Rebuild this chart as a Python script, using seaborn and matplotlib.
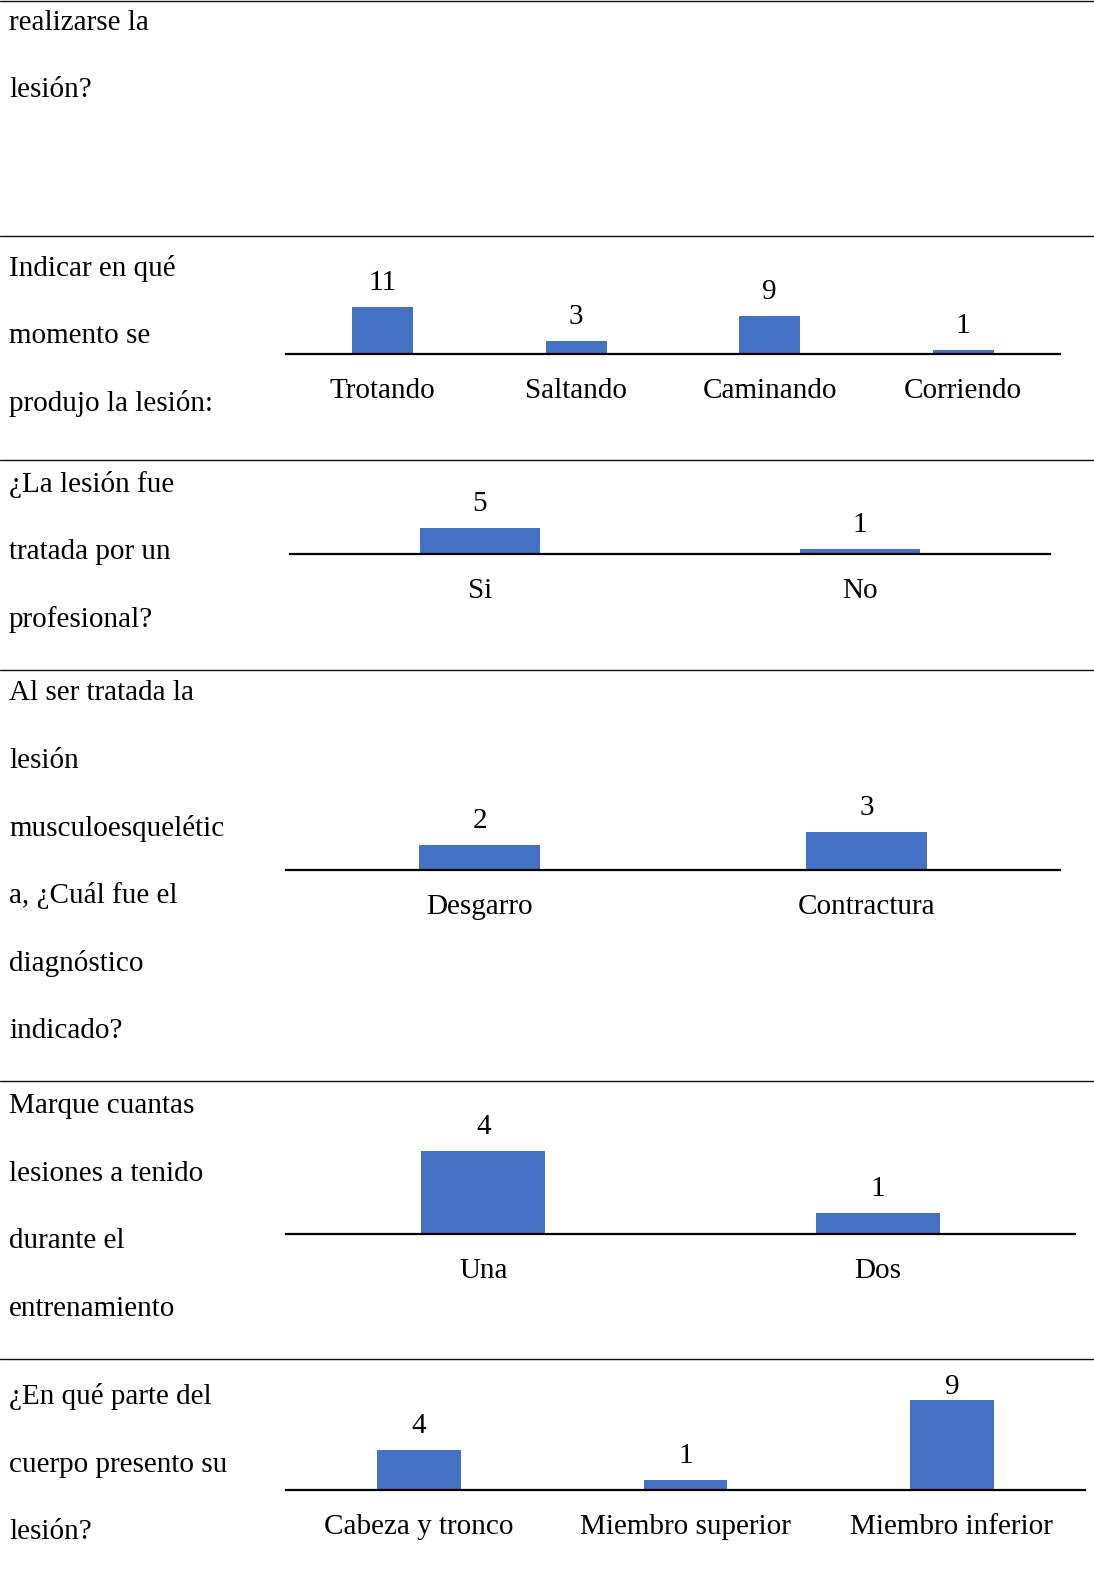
import matplotlib
matplotlib.use("Agg")
import matplotlib.pyplot as plt
import matplotlib.transforms as mtransforms
import seaborn as sns

sns.set_theme(style="white")
plt.rcParams["font.family"] = ["Liberation Serif", "DejaVu Serif"]

# ---- survey answers (counts) ----
momento_cats = ["Trotando", "Saltando", "Caminando", "Corriendo"]
momento_vals = [11, 3, 9, 1]

tratada_cats = ["Si", "No"]
tratada_vals = [5, 1]

diagnostico_cats = ["Desgarro", "Contractura"]
diagnostico_vals = [2, 3]

cuantas_cats = ["Una", "Dos"]
cuantas_vals = [4, 1]

parte_cats = ["Cabeza y tronco", "Miembro superior", "Miembro inferior"]
parte_vals = [4, 1, 9]

# ---- question text, one entry per printed line ----
q_prev = ["realizarse la", "lesión?"]
q_momento = ["Indicar en qué", "momento se", "produjo la lesión:"]
q_tratada = ["¿La lesión fue", "tratada por un", "profesional?"]
q_diagnostico = ["Al ser tratada la", "lesión", "musculoesquelétic",
                 "a, ¿Cuál fue el", "diagnóstico", "indicado?"]
q_cuantas = ["Marque cuantas", "lesiones a tenido", "durante el",
             "entrenamiento"]
q_parte = ["¿En qué parte del", "cuerpo presento su", "lesión?"]

# ---- page layout (pixels from top-left of the page) ----
W, H = 1094, 1595
DPI = 100
BAR_COLOR = "#4472C4"
FS = 21
LINE_STEP = 67.6

rule_rows = [1, 236, 460, 670, 1081, 1359]

# (lines, first line centre y)
text_blocks = [
    (q_prev, 22.5),
    (q_momento, 268.5),
    (q_tratada, 484.5),
    (q_diagnostico, 693),
    (q_cuantas, 1106),
    (q_parte, 1397),
]

# (categories, values, x_left, x_right, baseline_y, axes_height_px, px_per_unit)
panels = [
    (momento_cats, momento_vals, 286, 1060, 354, 90, 4.25),
    (tratada_cats, tratada_vals, 290, 1050, 554, 60, 5.2),
    (diagnostico_cats, diagnostico_vals, 286, 1060, 870, 70, 12.5),
    (cuantas_cats, cuantas_vals, 286, 1075, 1234, 115, 20.75),
    (parte_cats, parte_vals, 286, 1085, 1490, 104, 10.0),
]

fig = plt.figure(figsize=(W / DPI, H / DPI), dpi=DPI)
fig.patch.set_facecolor("white")

# horizontal table rules
for y in rule_rows:
    fig.add_artist(plt.Line2D([0, 1], [1 - y / H, 1 - y / H],
                              transform=fig.transFigure,
                              color="#111111", lw=1.0))

# question column
for lines, y0 in text_blocks:
    for i, line in enumerate(lines):
        y = y0 + i * LINE_STEP
        fig.text(9 / W, 1 - y / H, line, fontsize=FS, ha="left",
                 va="center", color="#000000")

LABEL_GAP = 25  # px between bar top and value label centre

for cats, vals, x0, x1, base, hpx, ppu in panels:
    ax = fig.add_axes([x0 / W, 1 - base / H, (x1 - x0) / W, hpx / H])
    ax.patch.set_alpha(0)
    sns.barplot(x=cats, y=vals, color=BAR_COLOR, saturation=1,
                width=0.315, ax=ax, edgecolor="none")
    n = len(cats)
    ymax = hpx / ppu
    ax.set_xlim(-0.5, n - 0.5)
    ax.set_ylim(0, ymax)
    for side in ("top", "left", "right"):
        ax.spines[side].set_visible(False)
    ax.spines["bottom"].set_color("#000000")
    ax.spines["bottom"].set_linewidth(1.6)
    ax.set_yticks([])
    ax.set_ylabel("")
    ax.set_xlabel("")
    ax.set_xticks(range(n))
    ax.set_xticklabels(cats, fontsize=FS, color="#000000")
    ax.tick_params(axis="x", length=0, pad=17.5)
    ax.grid(False)

    # value labels above bars, kept inside the panel box
    trans = mtransforms.blended_transform_factory(ax.transData, ax.transAxes)
    for i, v in enumerate(vals):
        centre_px = min(v * ppu + LABEL_GAP, hpx) - 1
        ax.text(i, centre_px / hpx, str(v), transform=trans,
                ha="center", va="center", fontsize=FS, color="#000000",
                clip_on=False)

fig.savefig("out.png", dpi=DPI, facecolor="white")
